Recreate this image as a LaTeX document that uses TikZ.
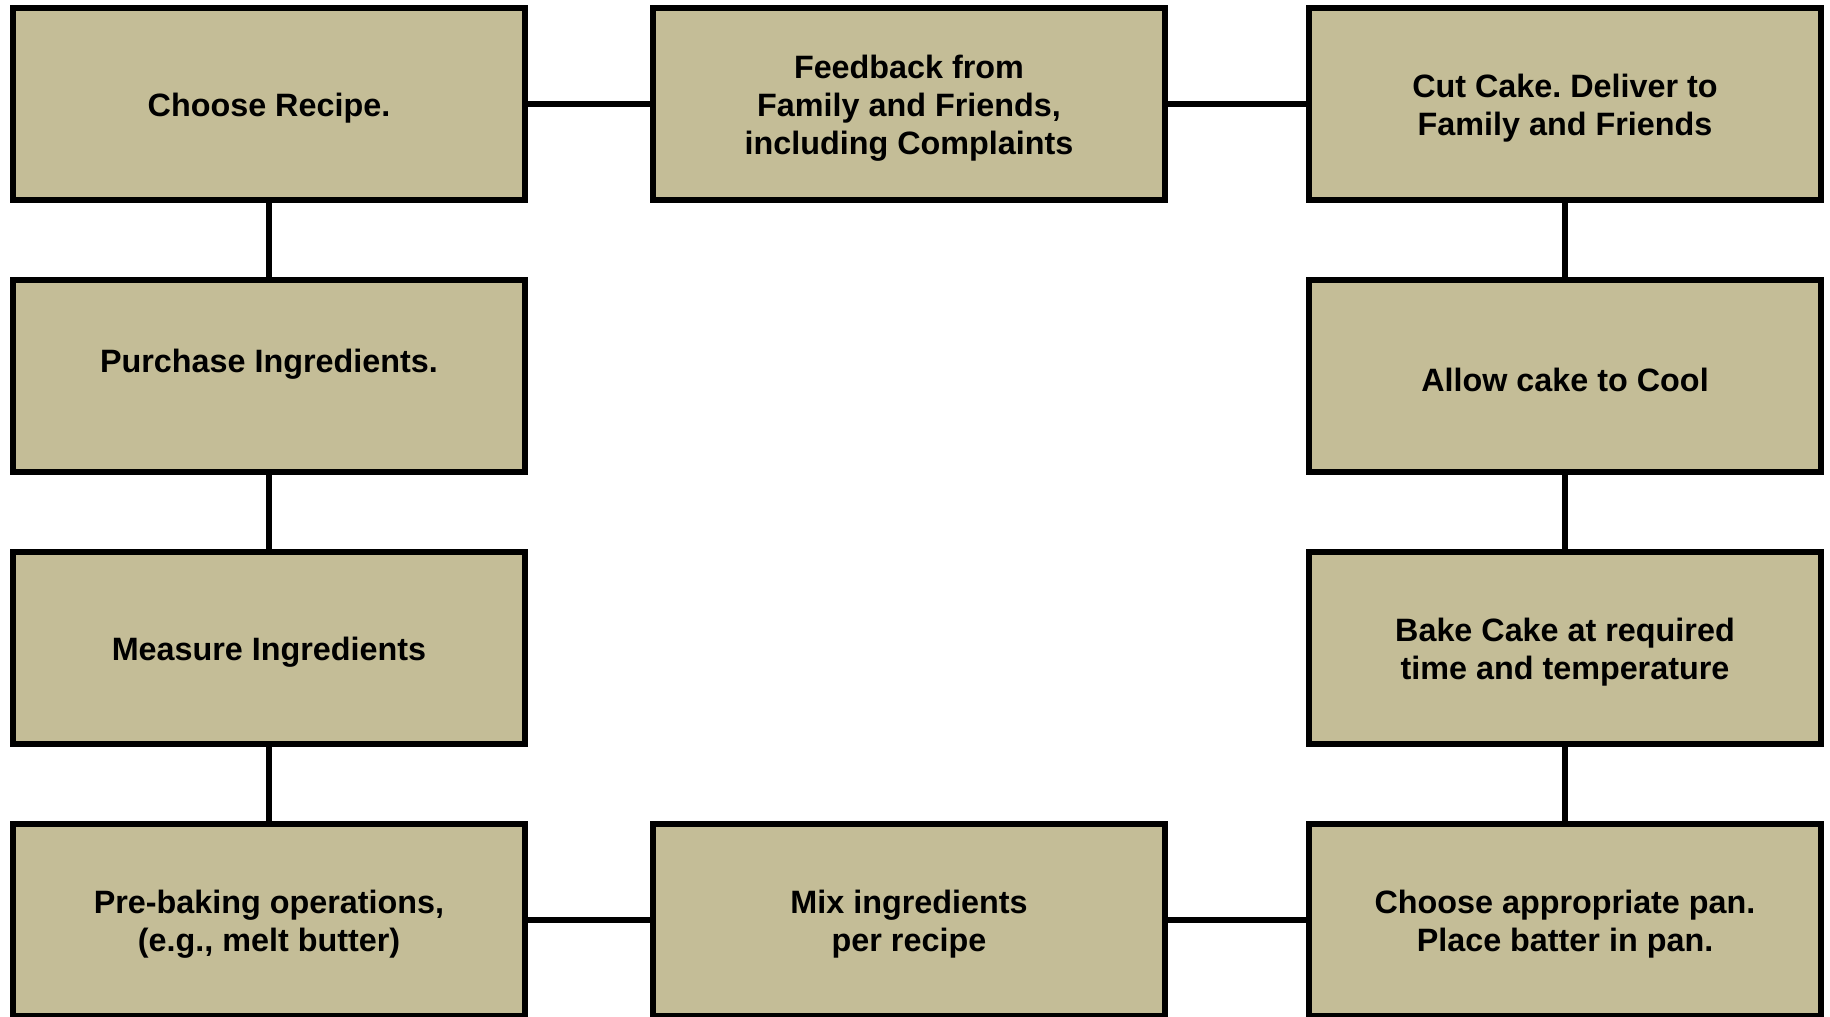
\documentclass[tikz,border=0pt]{standalone}
\usepackage{fontspec}
\setmainfont{Liberation Sans}
\usepackage[dvipsnames,svgnames,table]{xcolor}
\usepackage{tikz}
\usetikzlibrary{arrows.meta, positioning}

\definecolor{cakeTan}{HTML}{C4BD97}
\newcommand{\topstrut}{\rule{0pt}{9pt}}
\frenchspacing

\begin{document}
\begin{tikzpicture}[
  >=Stealth,
  scale=1.0,
  stepbox/.style={draw=black, line width=1.7pt, fill=cakeTan, rectangle,
    minimum width=5.12cm, minimum height=1.92cm, inner sep=0pt,
    align=center, font=\fontsize{9.2}{10.8}\selectfont\bfseries},
  link/.style={line width=1.7pt, black},
]
\useasboundingbox (0, 0) rectangle (18.30, 10.16);

% --- Left column ---
\node[stepbox] (recipe)   at (2.69, 9.12) {\topstrut Choose Recipe.};
\node[stepbox] (purchase) at (2.69, 6.40) {\topstrut Purchase Ingredients.\\\mbox{}};
\node[stepbox] (measure)  at (2.69, 3.68) {\topstrut Measure Ingredients};
\node[stepbox] (prebake)  at (2.69, 0.96) {\topstrut Pre-baking operations,\\(e.g., melt butter)};

% --- Middle column ---
\node[stepbox] (feedback) at (9.09, 9.12) {\topstrut Feedback from\\Family and Friends,\\including Complaints};
\node[stepbox] (mix)      at (9.09, 0.96) {\topstrut Mix ingredients\\per recipe};

% --- Right column ---
\node[stepbox] (deliver)  at (15.65, 9.12) {\topstrut Cut Cake. Deliver to\\Family and Friends};
\node[stepbox] (cool)     at (15.65, 6.40) {\topstrut Allow cake to Cool};
\node[stepbox] (bake)     at (15.65, 3.68) {\topstrut Bake Cake at required\\time and temperature};
\node[stepbox] (pan)      at (15.65, 0.96) {\topstrut Choose appropriate pan.\\Place batter in pan.};

% --- Connectors ---
\draw[link] (recipe) -- (purchase);
\draw[link] (purchase) -- (measure);
\draw[link] (measure) -- (prebake);
\draw[link] (prebake) -- (mix);
\draw[link] (mix) -- (pan);
\draw[link] (pan) -- (bake);
\draw[link] (bake) -- (cool);
\draw[link] (cool) -- (deliver);
\draw[link] (deliver) -- (feedback);
\draw[link] (feedback) -- (recipe);

\end{tikzpicture}
\end{document}
